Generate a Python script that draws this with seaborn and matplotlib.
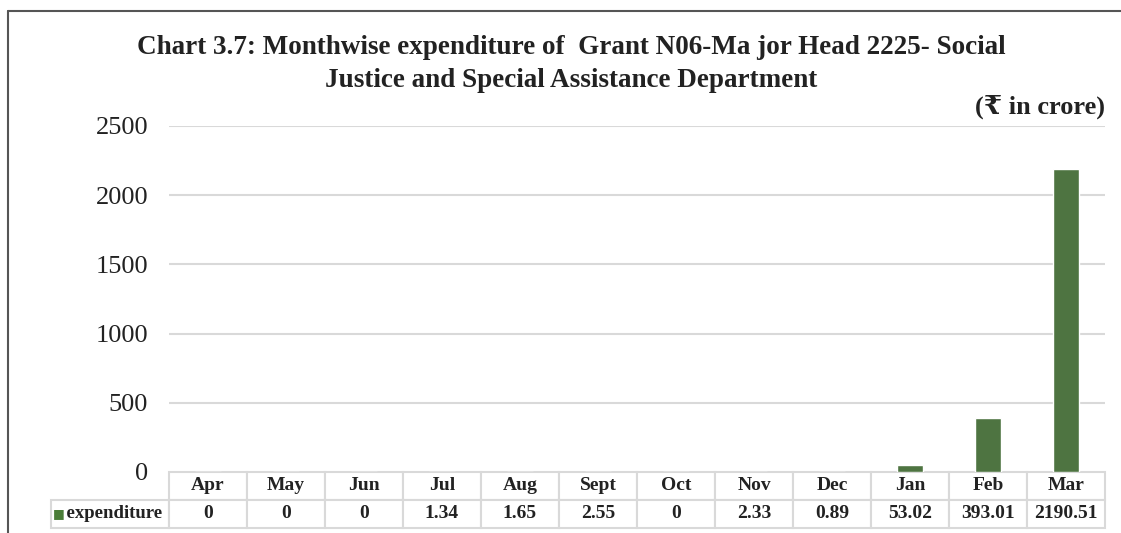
import matplotlib
matplotlib.use("Agg")
import matplotlib.pyplot as plt
import seaborn as sns
from matplotlib.lines import Line2D

months = ["Apr", "May", "Jun", "Jul", "Aug", "Sept", "Oct", "Nov", "Dec", "Jan", "Feb", "Mar"]
expenditure = [0, 0, 0, 1.34, 1.65, 2.55, 0, 2.33, 0.89, 53.02, 393.01, 2190.51]
yticks = [0, 500, 1000, 1500, 2000, 2500]

title = "Chart 3.7: Monthwise expenditure of  Grant N06-Ma jor Head 2225- Social\nJustice and Special Assistance Department"
unit = "(\u20b9 in crore)"
series_name = "expenditure"

bar_color = "#4A7D38"
grid_color = "#d9d9d9"

sns.set_style("white")
plt.rcParams["font.family"] = ["Liberation Serif", "DejaVu Serif", "DejaVu Sans"]

fig = plt.figure(figsize=(11.21, 5.33), dpi=100)
ax = fig.add_axes([169 / 1121, 61 / 533, 936 / 1121, 346 / 533])

sns.barplot(x=months, y=expenditure, color=bar_color, width=0.33, ax=ax, zorder=3)

ax.set_ylim(0, 2500)
ax.set_yticks(yticks)
ax.set_yticklabels([str(t) for t in yticks], fontsize=19, color="#222222")
ax.tick_params(axis="y", length=0, pad=15)
ax.set_xticks([])
ax.set_xlabel("")
ax.set_ylabel("")
for s in ax.spines.values():
    s.set_visible(False)
for t in yticks[1:]:
    ax.axhline(t, color=grid_color, lw=1.5, zorder=1)

# data table under the bars
cell_text = [[series_name] + ["{:g}".format(v) for v in expenditure]]
col_labels = [""] + months
widths = [118] + [78] * len(months)
tbl = ax.table(cellText=cell_text, colLabels=col_labels, colWidths=widths,
               cellLoc="center", bbox=[-118 / 936, -56 / 346, 1054 / 936, 56 / 346])
tbl.auto_set_font_size(False)
for (r, c), cell in tbl.get_celld().items():
    cell.set_edgecolor(grid_color)
    cell.set_linewidth(1.5)
    cell.get_text().set_fontsize(14)
    cell.get_text().set_fontweight("bold")
    cell.get_text().set_color("#222222")
    if r == 0 and c == 0:
        cell.visible_edges = ""
    if r == 1 and c == 0:
        cell.get_text().set_fontsize(13.5)
        cell.get_text().set_text("  " + series_name)
ax.text(-116 / 936, -42 / 346, "\u25a0", transform=ax.transAxes, color=bar_color,
        fontsize=9, ha="left", va="center", family=["DejaVu Sans"])

fig.text(571 / 1121, 1 - 64 / 533, title, ha="center", va="center", fontsize=19.5,
         fontweight="bold", color="#222222", linespacing=1.4)
fig.text(1105 / 1121, 1 - 107 / 533, unit, ha="right", va="center", fontsize=19,
         fontweight="bold", color="#222222")

# outer frame (left and top edges visible)
fig.add_artist(Line2D([8 / 1121, 8 / 1121], [0, 1 - 11 / 533], transform=fig.transFigure,
                      color="#555555", lw=1.5))
fig.add_artist(Line2D([8 / 1121, 1], [1 - 11 / 533, 1 - 11 / 533], transform=fig.transFigure,
                      color="#555555", lw=1.5))

fig.savefig("out.png", dpi=100)
